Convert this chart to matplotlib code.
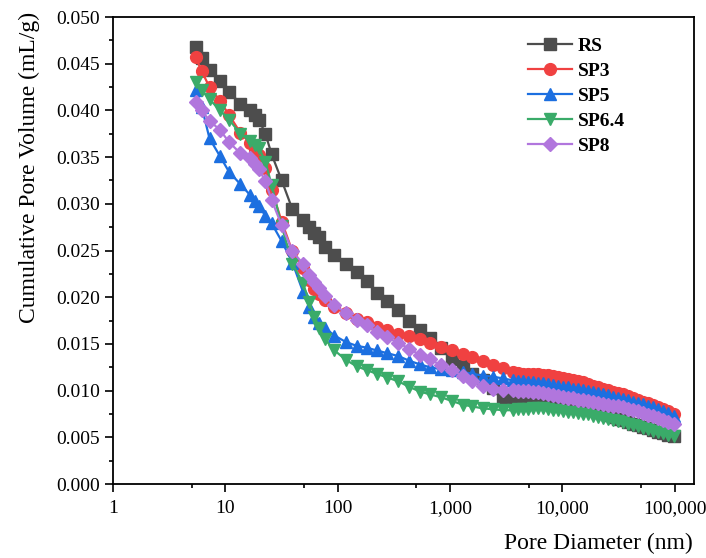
import numpy as np
import matplotlib.pyplot as plt
from matplotlib.ticker import FixedLocator, FuncFormatter, MultipleLocator

# ---------------------------------------------------------
# data - pore diameter in nm, volume in mL/g
# ---------------------------------------------------------
diameter = [5.44, 6.15, 7.22, 8.95, 10.8, 13.6, 16.7, 18.3, 19.9, 22.7, 25.8, 31.7,
            39.5, 49.0, 55.8, 62.0, 68.7, 76.9, 93.5, 118, 147, 181, 222, 277,
            345, 433, 539, 661, 823, 1031, 1292, 1579, 1957, 2403, 2950, 3621,
            4012, 4444, 4923, 5454, 6041, 6692, 7417, 8214, 9100, 10080, 11170, 12370,
            13710, 15190, 16830, 18640, 20650, 22880, 25350, 28080, 31110, 34470, 38190, 42300,
            46860, 51920, 57520, 63720, 70600, 78200, 86640, 98000]

rs = [0.0468, 0.0456, 0.0443, 0.0431, 0.0420, 0.0407, 0.0400, 0.0395, 0.0390, 0.0375, 0.0353, 0.0325,
      0.0294, 0.0283, 0.0275, 0.0269, 0.0264, 0.0254, 0.0245, 0.0236, 0.0227, 0.0217, 0.0205, 0.0196,
      0.0186, 0.0175, 0.0165, 0.0156, 0.0146, 0.0134, 0.0126, 0.0118, 0.0111, 0.0103, 0.0093, 0.0090,
      0.0089, 0.0089, 0.0088, 0.0088, 0.0087, 0.0087, 0.0086, 0.0086, 0.0085, 0.0085, 0.0084, 0.0083,
      0.0082, 0.0081, 0.0080, 0.0079, 0.0077, 0.0076, 0.0074, 0.0072, 0.0070, 0.0068, 0.0066, 0.0064,
      0.0063, 0.0061, 0.0060, 0.0058, 0.0056, 0.0055, 0.0053, 0.0051]

sp3 = [0.0457, 0.0442, 0.0425, 0.0410, 0.0395, 0.0376, 0.0365, 0.0358, 0.0352, 0.0338, 0.0315, 0.0281,
       0.0249, 0.0231, 0.0218, 0.0209, 0.0203, 0.0197, 0.0190, 0.0183, 0.0177, 0.0173, 0.0168, 0.0165,
       0.0161, 0.0158, 0.0155, 0.0151, 0.0147, 0.0143, 0.0139, 0.0136, 0.0132, 0.0127, 0.0124, 0.0120,
       0.0119, 0.0118, 0.0118, 0.0118, 0.0118, 0.0117, 0.0117, 0.0116, 0.0115, 0.0113, 0.0112, 0.0111,
       0.0110, 0.0109, 0.0107, 0.0105, 0.0104, 0.0102, 0.0101, 0.0099, 0.0097, 0.0096, 0.0094, 0.0092,
       0.0090, 0.0088, 0.0087, 0.0085, 0.0082, 0.0080, 0.0078, 0.0075]

sp5 = [0.0422, 0.0404, 0.0370, 0.0351, 0.0334, 0.0321, 0.0309, 0.0303, 0.0298, 0.0287, 0.0279, 0.0260,
       0.0237, 0.0206, 0.0190, 0.0179, 0.0172, 0.0167, 0.0159, 0.0152, 0.0148, 0.0146, 0.0143, 0.0140,
       0.0137, 0.0132, 0.0128, 0.0125, 0.0123, 0.0122, 0.0120, 0.0118, 0.0116, 0.0115, 0.0113, 0.0111,
       0.0110, 0.0110, 0.0109, 0.0109, 0.0108, 0.0108, 0.0107, 0.0106, 0.0105, 0.0104, 0.0104, 0.0102,
       0.0102, 0.0101, 0.0100, 0.0099, 0.0097, 0.0096, 0.0095, 0.0093, 0.0092, 0.0091, 0.0090, 0.0088,
       0.0087, 0.0086, 0.0084, 0.0082, 0.0080, 0.0078, 0.0076, 0.0073]

sp64 = [0.0430, 0.0422, 0.0412, 0.0400, 0.0390, 0.0375, 0.0367, 0.0363, 0.0360, 0.0345, 0.0320, 0.0276,
        0.0236, 0.0215, 0.0195, 0.0179, 0.0167, 0.0155, 0.0143, 0.0133, 0.0126, 0.0122, 0.0118, 0.0114,
        0.0110, 0.0104, 0.0099, 0.0096, 0.0093, 0.0089, 0.0085, 0.0083, 0.0081, 0.0080, 0.0079, 0.0079,
        0.0080, 0.0080, 0.0080, 0.0081, 0.0081, 0.0081, 0.0080, 0.0079, 0.0079, 0.0078, 0.0077, 0.0077,
        0.0076, 0.0075, 0.0075, 0.0073, 0.0072, 0.0071, 0.0070, 0.0069, 0.0067, 0.0066, 0.0064, 0.0063,
        0.0062, 0.0060, 0.0059, 0.0057, 0.0056, 0.0055, 0.0053, 0.0051]

sp8 = [0.0409, 0.0400, 0.0389, 0.0379, 0.0366, 0.0354, 0.0349, 0.0343, 0.0337, 0.0324, 0.0304, 0.0277,
       0.0249, 0.0236, 0.0224, 0.0216, 0.0210, 0.0201, 0.0192, 0.0183, 0.0176, 0.0170, 0.0163, 0.0157,
       0.0151, 0.0145, 0.0138, 0.0134, 0.0127, 0.0122, 0.0116, 0.0110, 0.0105, 0.0102, 0.0101, 0.0101,
       0.0100, 0.0100, 0.0100, 0.0099, 0.0098, 0.0097, 0.0096, 0.0095, 0.0094, 0.0093, 0.0092, 0.0092,
       0.0090, 0.0090, 0.0089, 0.0088, 0.0087, 0.0086, 0.0085, 0.0084, 0.0083, 0.0082, 0.0080, 0.0079,
       0.0078, 0.0076, 0.0074, 0.0073, 0.0071, 0.0069, 0.0066, 0.0064]

names = ["RS", "SP3", "SP5", "SP6.4", "SP8"]
series = [rs, sp3, sp5, sp64, sp8]
colors = ["#4d4d4d", "#f04141", "#1c6fe0", "#3aab69", "#b176dd"]
markers = ["s", "o", "^", "v", "D"]
msizes = [8, 8.5, 8.5, 8.5, 7]

plt.rcParams["font.family"] = ["Liberation Serif", "DejaVu Serif"]

fig = plt.figure(figsize=(7.06, 5.58), dpi=100)
ax = fig.add_axes([0.1601, 0.1326, 0.8229, 0.8369])

for name, y, c, m, ms in zip(names, series, colors, markers, msizes):
    ax.plot(diameter, y, color=c, marker=m, markersize=ms, markeredgecolor=c,
            linewidth=1.6, label=name)

ax.set_xscale("log")
ax.set_xlim(1, 1.48e5)
ax.set_ylim(0, 0.05)

# ticks
ax.xaxis.set_major_locator(FixedLocator([1, 10, 100, 1e3, 1e4, 1e5]))
ax.xaxis.set_minor_locator(FixedLocator([5, 50, 500, 5e3, 5e4]))
ax.xaxis.set_major_formatter(FuncFormatter(lambda v, p: f"{v:,.0f}"))
ax.xaxis.set_minor_formatter(FuncFormatter(lambda v, p: ""))
ax.yaxis.set_major_locator(MultipleLocator(0.005))
ax.yaxis.set_minor_locator(MultipleLocator(0.0025))
ax.yaxis.set_major_formatter(FuncFormatter(lambda v, p: f"{v:.3f}"))

ax.tick_params(which="both", direction="out", width=1.2, labelsize=14, top=False, right=False)
ax.tick_params(which="major", length=5.5, pad=4)
ax.tick_params(which="minor", length=3)
ax.tick_params(axis="x", which="major", pad=6)
for s in ax.spines.values():
    s.set_linewidth(1.3)

ax.set_xlabel("Pore Diameter (nm)", fontsize=17, loc="right")
ax.xaxis.set_label_coords(0.997, -0.105)
ax.set_ylabel("Cumulative Pore Volume (mL/g)", fontsize=17, loc="top")
ax.yaxis.set_label_coords(-0.125, 1.01)

leg = ax.legend(loc="upper right", bbox_to_anchor=(0.905, 0.985), frameon=False,
                prop={"weight": "bold", "size": 14}, handlelength=2.3,
                handletextpad=0.3, labelspacing=0.38, borderaxespad=0.3)

fig.savefig("out.png", dpi=100)
